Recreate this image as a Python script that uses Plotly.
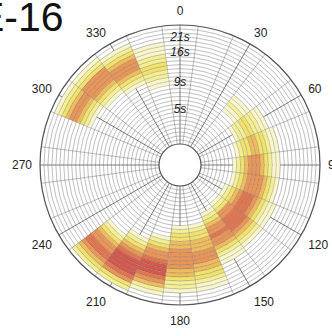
import plotly.graph_objects as go

# Direction bins (deg, clockwise from north) and frequency-ring count
directions = [0, 15, 30, 45, 60, 75, 90, 105, 120, 135, 150, 165,
              180, 195, 210, 225, 240, 255, 270, 285, 300, 315, 330, 345]
n_rings = 30

# Energy level per ring (inner -> outer), one string per direction bin
energy = {
    0:   "000000000000000000000000000000",
    15:  "000000000000000000000000000000",
    30:  "000000000000000000000000000000",
    45:  "000000000000112110000000000000",
    60:  "000000000012233221100000000000",
    75:  "000000000123344332110000000000",
    90:  "000000001234555432110000000000",
    105: "000000001234555543210000000000",
    120: "000000012345666543211000000000",
    135: "000000012355666654321000000000",
    150: "000000001234556554321100000000",
    165: "000000000012334445554433211000",
    180: "000000000012334455555443221000",
    195: "000000000000012345567776542100",
    210: "000000000000000123456777765320",
    225: "000000000000000001234556654320",
    240: "000000000000000000000000000000",
    255: "000000000000000000000000000000",
    270: "000000000000000000000000000000",
    285: "000000000000000000000000000000",
    300: "000000000000000000012345543210",
    315: "000000000000000000123455553210",
    330: "000000000000000001234555432100",
    345: "000000000000000112233221110000",
}

angle_ticks = [0, 30, 60, 90, 120, 150, 180, 210, 240, 270, 300, 330]
period_labels = ["5s", "9s", "16s", "21s"]
period_ring = [8.6, 15.4, 22.9, 26.7]

palette = {
    0: "rgba(0,0,0,0)",
    1: "#f9f6cc",
    2: "#f4ef96",
    3: "#f0e26c",
    4: "#eebb5e",
    5: "#e8955a",
    6: "#e07650",
    7: "#d5584e",
}

thetas, bases, colors = [], [], []
for d in directions:
    prof = energy[d]
    assert len(prof) == n_rings
    for i, ch in enumerate(prof):
        thetas.append(d)
        bases.append(i)
        colors.append(palette[int(ch)])

fig = go.Figure()
fig.add_trace(go.Barpolar(
    theta=thetas, r=[1] * len(thetas), base=bases, width=15,
    marker=dict(color=colors, line=dict(color="rgba(90,90,90,0.42)", width=0.5)),
    hoverinfo="skip", showlegend=False,
))
fig.add_trace(go.Scatterpolar(
    theta=[0] * len(period_labels), r=period_ring, text=period_labels,
    mode="text", textposition="middle center",
    textfont=dict(family="Liberation Sans", size=12, color="#222", style="italic"),
    showlegend=False, hoverinfo="skip",
))

fig.update_layout(
    width=332, height=336,
    margin=dict(l=0, r=0, t=0, b=0),
    paper_bgcolor="white",
    polar=dict(
        domain=dict(x=[40 / 332, 320 / 332], y=[31 / 336, 311 / 336]),
        bgcolor="white",
        hole=0.15,
        barmode="overlay",
        angularaxis=dict(
            rotation=90, direction="clockwise",
            tickmode="array", tickvals=angle_ticks,
            ticktext=[str(a) for a in angle_ticks],
            tickfont=dict(family="Liberation Sans", size=12, color="#222"),
            ticks="outside", ticklen=5, tickcolor="rgba(0,0,0,0)",
            showgrid=True, gridcolor="#808080", gridwidth=0.8,
            showline=True, linecolor="#555", linewidth=1.2,
        ),
        radialaxis=dict(
            range=[0, n_rings], showticklabels=False, ticks="",
            showgrid=False, showline=False,
        ),
    ),
    annotations=[dict(
        text="E-16", xref="paper", yref="paper", x=66 / 332, y=1 - 17 / 336,
        xanchor="right", yanchor="middle", showarrow=False,
        font=dict(family="Liberation Sans", size=41, color="#111"),
    )],
)

fig.write_html("out.html", config={"displayModeBar": False},
               post_script="document.body.style.margin='0';")
